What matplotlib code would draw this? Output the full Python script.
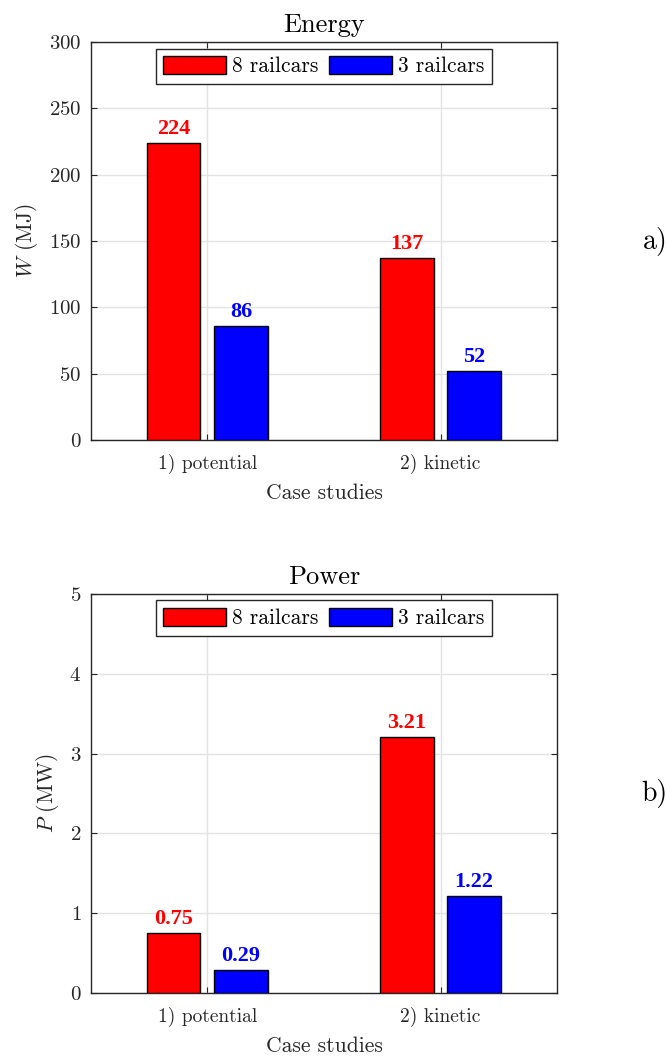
import numpy as np
import matplotlib.pyplot as plt

cases = ['1) potential', '2) kinetic']
series = ['8 railcars', '3 railcars']
colors = ['#ff0000', '#0000ff']
energy_8 = [224, 137]
energy_3 = [86, 52]
power_8 = [0.75, 3.21]
power_3 = [0.29, 1.22]

plt.rcParams['font.family'] = ['cmr10']
plt.rcParams['mathtext.fontset'] = 'cm'
plt.rcParams['axes.formatter.use_mathtext'] = True
plt.rcParams['font.size'] = 14

fig = plt.figure(figsize=(6.67, 10.57), dpi=100)
ax1 = fig.add_axes([0.1364, 0.5837, 0.6987, 0.3765])
ax2 = fig.add_axes([0.1364, 0.0605, 0.6987, 0.3775])

x = np.arange(1, len(cases) + 1)
w = 0.228
off = 0.144
axcol = '#262626'


def draw(ax, v8, v3, ymax, step, fmt, title, ylabel, tag):
    for vals, sign, c, lab in [(v8, -1, colors[0], series[0]), (v3, 1, colors[1], series[1])]:
        bars = ax.bar(x + sign * off, vals, w, color=c, edgecolor='black',
                      linewidth=1, label=lab, zorder=3)
        for b, v in zip(bars, vals):
            ax.annotate(fmt.format(v), (b.get_x() + b.get_width() / 2, v),
                        xytext=(0, 3), textcoords='offset points',
                        ha='center', va='bottom', color=c, fontsize=16,
                        fontweight='bold', family='Liberation Serif', zorder=4)
    ax.set_xlim(0.5, 2.5)
    ax.set_ylim(0, ymax)
    ax.set_yticks(np.arange(0, ymax + step / 2, step))
    ax.set_xticks(x)
    ax.set_xticklabels(cases)
    ax.grid(True, color='#e3e3e3', linewidth=1, zorder=0)
    ax.set_axisbelow(True)
    ax.tick_params(direction='in', top=True, right=True, length=4,
                   color=axcol, labelcolor=axcol, labelsize=14)
    ax.tick_params(axis='y', labelsize=15)
    ax.tick_params(axis='x', pad=10)
    ax.tick_params(axis='y', pad=7)
    for s in ax.spines.values():
        s.set_color(axcol)
        s.set_linewidth(1)
    ax.set_title(title, fontsize=19, pad=7)
    ax.set_xlabel('Case studies', fontsize=15.5, color=axcol, labelpad=7)
    ax.set_ylabel(ylabel, fontsize=15.5, color=axcol, labelpad=6)
    leg = ax.legend(loc='upper center', ncol=2, fancybox=False, framealpha=1,
                    edgecolor=axcol, fontsize=15.5, handlelength=2.9,
                    handleheight=0.9, columnspacing=0.5, handletextpad=0.3,
                    borderaxespad=0.3, borderpad=0.35)
    leg.get_frame().set_linewidth(1)
    ax.text(1.21, 0.5, tag, transform=ax.transAxes, fontsize=20, va='center', ha='center')


draw(ax1, energy_8, energy_3, 300, 50, '{:d}', 'Energy', '$W$ (MJ)', 'a)')
draw(ax2, power_8, power_3, 5, 1, '{:.2f}', 'Power', '$P$ (MW)', 'b)')

fig.savefig('out.png', dpi=100)
